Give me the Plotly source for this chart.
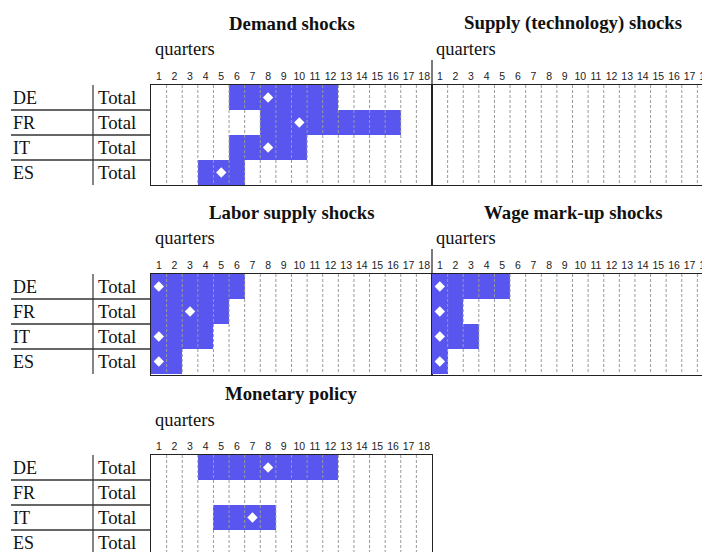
import plotly.graph_objects as go

# ---------------- data ----------------
countries = ["DE", "FR", "IT", "ES"]
row_label = "Total"
quarters = list(range(1, 19))

panel_titles = ["Demand shocks", "Supply (technology) shocks", "Labor supply shocks",
                "Wage mark-up shocks", "Monetary policy"]

# first / last significant quarter and peak quarter per country (None = not significant)
demand_start = [6, 8, 6, 4]
demand_end = [12, 16, 10, 6]
demand_peak = [8, 10, 8, 5]

supply_start = [None, None, None, None]
supply_end = [None, None, None, None]
supply_peak = [None, None, None, None]

labor_start = [1, 1, 1, 1]
labor_end = [6, 5, 4, 2]
labor_peak = [1, 3, 1, 1]

wage_start = [1, 1, 1, 1]
wage_end = [5, 2, 3, 1]
wage_peak = [1, 1, 1, 1]

monetary_start = [4, None, 5, None]
monetary_end = [12, None, 8, None]
monetary_peak = [8, None, 7, None]

# ---------------- layout helpers ----------------
OFF = 8                      # page body margin in the browser
W, H = 710 - OFF, 552 - OFF  # figure size
BLUE = "#5956f0"
LINE = "#222222"
SERIF = "Liberation Serif, Times New Roman, serif"
SANS = "Liberation Sans, Arial, sans-serif"

def px_x(p):
    return min(max((p - OFF) / W, 0), 1)

def px_y(p):
    return min(max(1 - (p - OFF) / H, 0), 1)

row_pos = list(range(len(countries)))
grid_left, grid_mid = 151, 432
colw = (grid_mid - grid_left) / 18.0
row_h = 25.0
REF_W, REF_H = 710, 552

panels = [
    dict(start=demand_start, end=demand_end, peak=demand_peak, x0=grid_left, x1=grid_mid, top=85, bot=185),
    dict(start=supply_start, end=supply_end, peak=supply_peak, x0=grid_mid, x1=REF_W, top=85, bot=185),
    dict(start=labor_start, end=labor_end, peak=labor_peak, x0=grid_left, x1=grid_mid, top=274, bot=375),
    dict(start=wage_start, end=wage_end, peak=wage_peak, x0=grid_mid, x1=REF_W, top=274, bot=375),
    dict(start=monetary_start, end=monetary_end, peak=monetary_peak, x0=grid_left, x1=grid_mid, top=455, bot=REF_H),
]
title_y = [23, 23, 212, 212, 393]
quarters_y = [49, 49, 238, 238, 420]

fig = go.Figure()
layout = dict(
    width=W, height=H, margin=dict(l=0, r=0, t=0, b=0),
    paper_bgcolor="white", plot_bgcolor="white", showlegend=False,
    bargap=0, barmode="overlay",
)
annotations = []
shapes = []

for i, p in enumerate(panels):
    n = i + 1
    xs = "x" if n == 1 else f"x{n}"
    ys = "y" if n == 1 else f"y{n}"
    xk = "xaxis" if n == 1 else f"xaxis{n}"
    yk = "yaxis" if n == 1 else f"yaxis{n}"
    right_panel = p["x1"] == REF_W
    cropped_bottom = p["bot"] == REF_H

    xr = [0.5, 0.5 + (p["x1"] - p["x0"]) / colw]
    nrows = (p["bot"] - p["top"]) / row_h
    yr = [-0.5 + nrows, -0.5]

    # significant-period bars
    bx, by, bb = [], [], []
    for r, s, e in zip(row_pos, p["start"], p["end"]):
        if s is not None:
            by.append(r)
            bb.append(s - 0.5)
            bx.append(e - s + 1)
    fig.add_trace(go.Bar(
        orientation="h", y=by, x=bx, base=bb, width=1,
        marker=dict(color=BLUE, line=dict(width=0)),
        xaxis=xs, yaxis=ys, hoverinfo="skip",
    ))

    # dashed quarter separators (above bars)
    gx, gy = [], []
    for q in quarters[:-1]:
        gx += [q + 0.5, q + 0.5, None]
        gy += [row_pos[0] - 0.5, row_pos[-1] + 0.5, None]
    fig.add_trace(go.Scatter(
        x=gx, y=gy, mode="lines", line=dict(color="#9a9a9a", width=1, dash="3px,2px"),
        xaxis=xs, yaxis=ys, hoverinfo="skip",
    ))

    # peak markers
    mx, my = [], []
    for r, pk in zip(row_pos, p["peak"]):
        if pk is not None:
            mx.append(pk)
            my.append(r)
    fig.add_trace(go.Scatter(
        x=mx, y=my, mode="markers",
        marker=dict(symbol="diamond", color="white", size=8, line=dict(width=0)),
        xaxis=xs, yaxis=ys, hoverinfo="skip",
    ))

    layout[xk] = dict(
        domain=[px_x(p["x0"]), px_x(p["x1"])], range=xr, anchor=ys, side="top",
        tickmode="array", tickvals=quarters, ticktext=[str(q) for q in quarters],
        tickfont=dict(family=SANS, size=10.5, color="#222"), ticks="",
        ticklabeloverflow="allow",
        showgrid=False, zeroline=False, showline=True, linecolor=LINE, linewidth=1.2,
        mirror=(not cropped_bottom), fixedrange=True,
    )
    layout[yk] = dict(
        domain=[px_y(p["bot"]), px_y(p["top"])], range=yr, anchor=xs,
        showticklabels=False, ticks="", showgrid=False, zeroline=False,
        showline=True, linecolor=LINE, linewidth=1.2, mirror=(not right_panel),
        fixedrange=True,
    )

    # title and "quarters"
    annotations.append(dict(
        text="<b>" + panel_titles[i] + "</b>", xref="paper", yref="paper",
        x=px_x(p["x0"] + 140.5), y=px_y(title_y[i]),
        xanchor="center", yanchor="middle", showarrow=False,
        font=dict(family=SERIF, size=18.8, color="#111"),
    ))
    annotations.append(dict(
        text="quarters", xref="paper", yref="paper",
        x=px_x(p["x0"] + 2), y=px_y(quarters_y[i]),
        xanchor="left", yanchor="middle", showarrow=False,
        font=dict(family=SERIF, size=18.5, color="#111"),
    ))

    if right_panel:
        shapes.append(dict(type="line", xref="paper", yref="paper",
                           x0=px_x(p["x0"]), x1=px_x(p["x0"]),
                           y0=px_y(p["top"] - 25), y1=px_y(p["top"]),
                           line=dict(color=LINE, width=1.2)))
    else:
        lk_n = {1: 6, 3: 7, 5: 8}[n]
        lx = f"x{lk_n}"
        layout[f"xaxis{lk_n}"] = dict(domain=[0, px_x(grid_left)], range=[OFF, grid_left],
                                      anchor=ys, visible=False, fixedrange=True)
        fig.add_trace(go.Scatter(x=[None], y=[None], xaxis=lx, yaxis=ys,
                                 mode="markers", hoverinfo="skip"))
        for r, c in zip(row_pos, countries):
            annotations.append(dict(text=c, xref=lx, yref=ys, x=11, y=r,
                                    xanchor="left", yanchor="middle", showarrow=False,
                                    font=dict(family=SERIF, size=18, color="#111")))
            annotations.append(dict(text=row_label, xref=lx, yref=ys, x=96, y=r,
                                    xanchor="left", yanchor="middle", showarrow=False,
                                    font=dict(family=SERIF, size=18.8, color="#111")))
        for k in row_pos[:-1]:
            shapes.append(dict(type="line", xref=lx, yref=ys, x0=11, x1=grid_left - 1,
                               y0=k + 0.5, y1=k + 0.5, line=dict(color="#333", width=1.5)))
        shapes.append(dict(type="line", xref=lx, yref=ys, x0=93, x1=93,
                           y0=row_pos[0] - 0.5, y1=row_pos[-1] + 0.5,
                           line=dict(color="#333", width=1.2)))

layout["annotations"] = annotations
layout["shapes"] = shapes
fig.update_layout(**layout)
fig.write_html("out.html")
